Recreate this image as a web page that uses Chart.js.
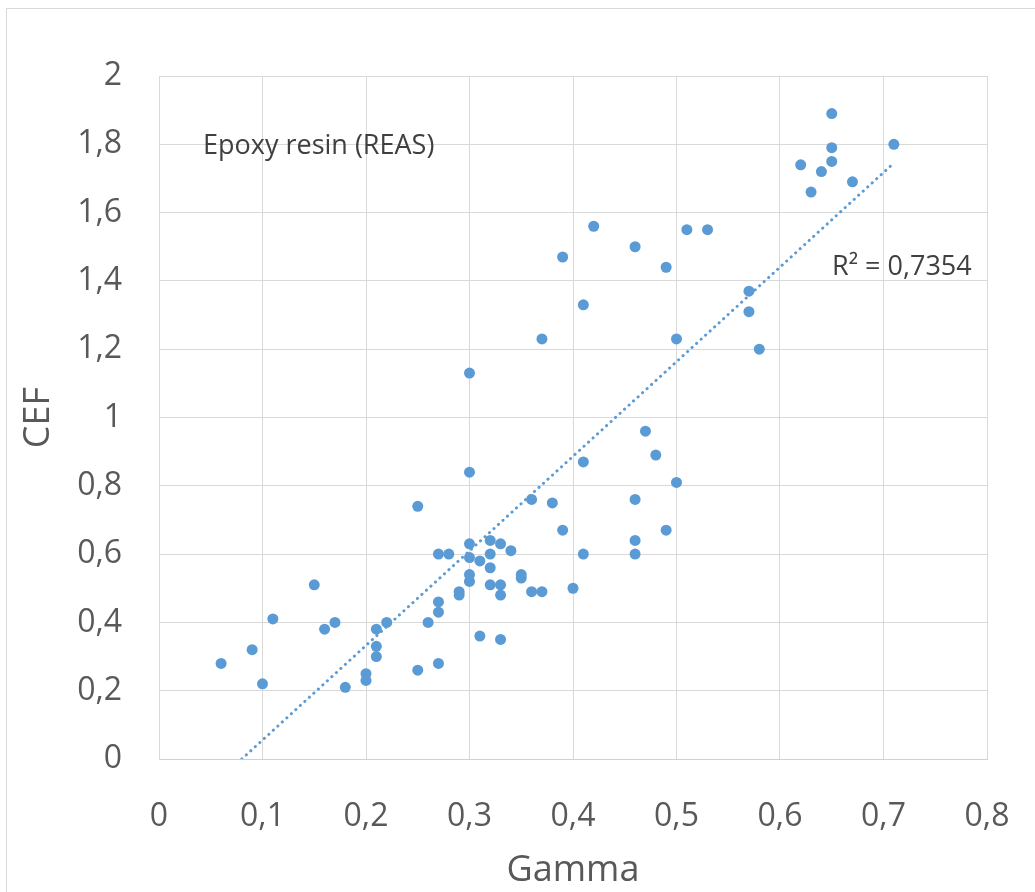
<!DOCTYPE html>
<html>
<head>
<meta charset="utf-8">
<script src="https://cdn.jsdelivr.net/npm/chart.js@4"></script>
<style>
  html, body { margin: 0; padding: 0; background: #ffffff; }
  #wrap { width: 1035px; height: 892px; }
</style>
</head>
<body>
<div id="wrap"><canvas id="chart" width="1035" height="892"></canvas></div>
<script>
// Measured samples: Gamma (x) and CEF (y), epoxy resin (REAS)
const gammaValues = [
  0.06, 0.09, 0.10, 0.11, 0.15, 0.16, 0.17, 0.18, 0.20, 0.20,
  0.21, 0.21, 0.21, 0.22, 0.25, 0.25, 0.26, 0.27, 0.27, 0.27,
  0.27, 0.28, 0.29, 0.29, 0.30, 0.30, 0.30, 0.30, 0.30, 0.30,
  0.31, 0.31, 0.32, 0.32, 0.32, 0.32, 0.33, 0.33, 0.33, 0.33,
  0.34, 0.35, 0.35, 0.36, 0.36, 0.37, 0.37, 0.38, 0.39, 0.39,
  0.40, 0.41, 0.41, 0.41, 0.42, 0.46, 0.46, 0.46, 0.46, 0.47,
  0.48, 0.49, 0.49, 0.50, 0.50, 0.51, 0.53, 0.57, 0.57, 0.58,
  0.62, 0.63, 0.64, 0.65, 0.65, 0.65, 0.67, 0.71
];
const cefValues = [
  0.28, 0.32, 0.22, 0.41, 0.51, 0.38, 0.40, 0.21, 0.25, 0.23,
  0.38, 0.33, 0.30, 0.40, 0.74, 0.26, 0.40, 0.60, 0.46, 0.43,
  0.28, 0.60, 0.49, 0.48, 1.13, 0.84, 0.63, 0.59, 0.54, 0.52,
  0.58, 0.36, 0.64, 0.60, 0.56, 0.51, 0.63, 0.51, 0.48, 0.35,
  0.61, 0.54, 0.53, 0.76, 0.49, 1.23, 0.49, 0.75, 1.47, 0.67,
  0.50, 1.33, 0.87, 0.60, 1.56, 1.50, 0.76, 0.64, 0.60, 0.96,
  0.89, 1.44, 0.67, 1.23, 0.81, 1.55, 1.55, 1.37, 1.31, 1.20,
  1.74, 1.66, 1.72, 1.89, 1.79, 1.75, 1.69, 1.80
];

// Linear trendline end points (dotted)
const trendGamma = [0.08, 0.71];
const trendCef = [0.0, 1.745];

// Axis tick labels (decimal comma)
const xTickLabels = ['0', '0,1', '0,2', '0,3', '0,4', '0,5', '0,6', '0,7', '0,8'];
const yTickLabels = ['0', '0,2', '0,4', '0,6', '0,8', '1', '1,2', '1,4', '1,6', '1,8', '2'];

const seriesLabel = 'Epoxy resin (REAS)';
const rSquaredLabel = 'R² = 0,7354';

const blue = '#5b9bd5';
const gridColor = '#d9d9d9';
const tickColor = '#595959';
const FONT = "'Open Sans', 'DejaVu Sans', sans-serif";

const points = gammaValues.map((g, i) => ({ x: g, y: cefValues[i] }));
const trendPoints = trendGamma.map((g, i) => ({ x: g, y: trendCef[i] }));

// Outer frame and in-plot annotations
const decorPlugin = {
  id: 'decor',
  beforeDraw(chart) {
    const ctx = chart.ctx;
    ctx.save();
    ctx.fillStyle = '#ffffff';
    ctx.fillRect(0, 0, chart.width, chart.height);
    ctx.strokeStyle = '#d9d9d9';
    ctx.lineWidth = 1;
    ctx.strokeRect(6.5, 8.5, chart.width + 10, chart.height + 10);
    ctx.restore();
  },
  afterDatasetsDraw(chart) {
    const ctx = chart.ctx;
    ctx.save();
    ctx.fillStyle = '#404040';
    ctx.font = '27px ' + FONT;
    ctx.textBaseline = 'alphabetic';
    ctx.textAlign = 'left';
    ctx.fillText(seriesLabel, 203, 154);
    ctx.fillText(rSquaredLabel, 832, 275);
    ctx.restore();
  }
};

new Chart(document.getElementById('chart'), {
  type: 'scatter',
  data: {
    datasets: [
      {
        label: 'Trendline',
        type: 'line',
        data: trendPoints,
        borderColor: blue,
        borderWidth: 3,
        borderDash: [0.1, 6],
        borderCapStyle: 'round',
        pointRadius: 0,
        fill: false,
        order: 2
      },
      {
        label: seriesLabel,
        data: points,
        backgroundColor: blue,
        borderColor: blue,
        borderWidth: 0,
        pointRadius: 5.5,
        pointHoverRadius: 5.5,
        order: 1
      }
    ]
  },
  options: {
    responsive: false,
    animation: false,
    devicePixelRatio: 1,
    layout: { padding: { top: 76, right: 48, left: 0, bottom: 0 } },
    plugins: {
      legend: { display: false },
      tooltip: { enabled: false }
    },
    scales: {
      x: {
        type: 'linear',
        min: 0,
        max: 0.8,
        afterFit(scale) {
          scale.height = 133;
          scale.paddingLeft = 0;
          scale.paddingRight = 0;
        },
        ticks: {
          stepSize: 0.1,
          padding: 39,
          color: tickColor,
          font: { family: FONT, size: 32 },
          maxRotation: 0,
          callback: (v, i) => xTickLabels[i]
        },
        grid: { color: gridColor, drawTicks: false, lineWidth: 1 },
        border: { color: '#cfcfcf', width: 1 },
        title: {
          display: true,
          text: 'Gamma',
          color: tickColor,
          font: { family: FONT, size: 36, lineHeight: 1.2 },
          padding: { top: 0, bottom: 0 }
        }
      },
      y: {
        type: 'linear',
        min: 0,
        max: 2,
        afterFit(scale) {
          scale.width = 159;
          scale.paddingTop = 0;
          scale.paddingBottom = 0;
        },
        ticks: {
          stepSize: 0.2,
          padding: 37,
          color: tickColor,
          font: { family: FONT, size: 32 },
          callback: (v, i) => yTickLabels[i]
        },
        grid: { color: gridColor, drawTicks: false, lineWidth: 1 },
        border: { color: gridColor, width: 1 },
        title: {
          display: true,
          text: 'CEF',
          color: tickColor,
          font: { family: FONT, size: 36, lineHeight: 1.2 },
          padding: { top: 17, bottom: 0 }
        }
      }
    }
  },
  plugins: [decorPlugin]
});
</script>
</body>
</html>
